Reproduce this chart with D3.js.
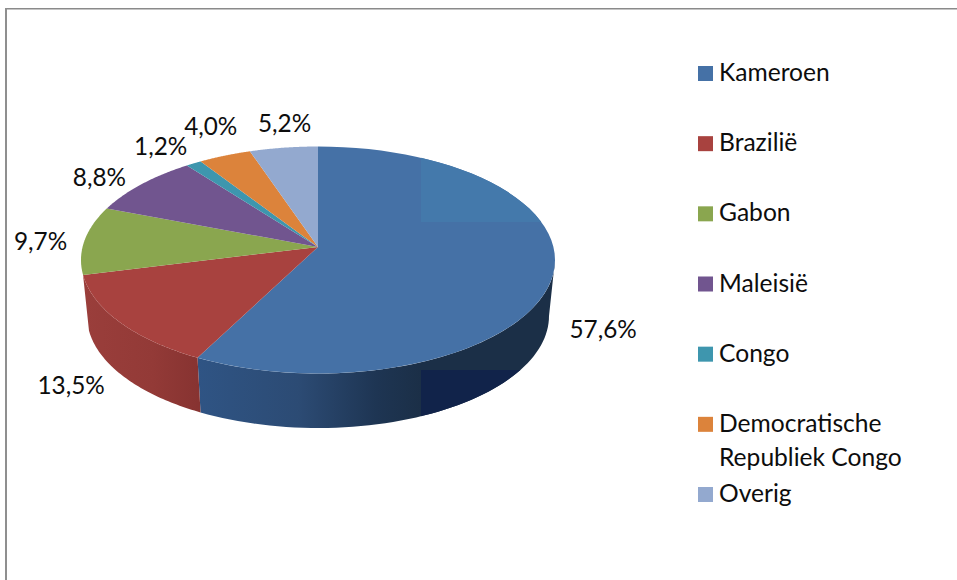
<!DOCTYPE html>
<html>
<head>
<meta charset="utf-8">
<script src="https://cdn.jsdelivr.net/npm/d3@7"></script>
<style>
  html, body { margin: 0; padding: 0; background: #fff; }
  svg { display: block; }
  text { font-family: Lato, "Open Sans", sans-serif; fill: #0d0d0d; }
</style>
</head>
<body>
<div id="chart"></div>
<script>
const categories = ["Kameroen", "Brazilië", "Gabon", "Maleisië", "Congo", ["Democratische", "Republiek Congo"], "Overig"];
const values = [57.6, 13.5, 9.7, 8.8, 1.2, 4.0, 5.2];
const valueLabels = ["57,6%", "13,5%", "9,7%", "8,8%", "1,2%", "4,0%", "5,2%"];
const colors = ["#4571a6", "#a8423f", "#8aa64f", "#71558f", "#3e96ae", "#dc833b", "#93a9cf"];
// label shift away from the rim, by slice
const labelShift = [[50, 54], [-48, 63], [-44, 0], [-42, -8], [-33, -18], [-14, -30], [1, -25]];

const width = 957;
const height = 580;

// top and bottom rim of the disc
const topRim = { cx: 318, cy: 260, rx: 237, ry: 113.5 };
const bottomRim = { cx: 318, cy: 316, rx: 231, ry: 112 };
// the perspective moves the disc centre up the ellipse
const tilt = 0.115;

function project(rim, angle) {
    const s = Math.sin(angle), c = Math.cos(angle);
    const d = 1 + tilt * c;
    return [
        rim.cx + rim.rx * s * Math.sqrt(1 - tilt * tilt) / d,
        rim.cy - rim.ry * (c + tilt) / d
    ];
}

function rimPoints(rim, a0, a1) {
    return d3.range(0, 61).map(i => project(rim, a0 + (a1 - a0) * i / 60));
}

const svg = d3.select("#chart").append("svg")
    .attr("width", width)
    .attr("height", height);

const defs = svg.append("defs");

function addGradient(id, x1, x2, stops) {
    const g = defs.append("linearGradient")
        .attr("id", id)
        .attr("gradientUnits", "userSpaceOnUse")
        .attr("x1", x1).attr("x2", x2).attr("y1", 0).attr("y2", 0);
    stops.forEach(s => g.append("stop").attr("offset", s[0]).attr("stop-color", s[1]));
}
addGradient("wall0", 198, 421, [[0, "#2f5484"], [0.45, "#2c4b74"], [0.8, "#1e3553"], [1, "#1b2f47"]]);
addGradient("wall1", 84, 198, [[0, "#9a3e3b"], [0.6, "#933a37"], [1, "#873331"]]);

defs.append("clipPath").attr("id", "patchTop")
    .append("rect").attr("x", 421).attr("y", 0).attr("width", 300).attr("height", 222);
defs.append("clipPath").attr("id", "patchWall")
    .append("rect").attr("x", 421).attr("y", 370).attr("width", 300).attr("height", 100);

// chart frame, only top and left survive
svg.append("rect").attr("x", 5).attr("y", 8).attr("width", 952).attr("height", 1.5).attr("fill", "#8a8a8a");
svg.append("rect").attr("x", 5).attr("y", 8).attr("width", 2).attr("height", 572).attr("fill", "#8f8f8f");

const pie = d3.pie().sort(null).value(d => d);
const slices = pie(values);
const line = d3.line();

// front edge of the disc in true angle
const frontStart = Math.acos(-tilt);
const frontEnd = 2 * Math.PI - frontStart;

function wallPath(d) {
    const a0 = Math.max(d.startAngle, frontStart);
    const a1 = Math.min(d.endAngle, frontEnd);
    return line(rimPoints(topRim, a0, a1).concat(rimPoints(bottomRim, a1, a0))) + "Z";
}

function topPath(d) {
    const apex = [topRim.cx, topRim.cy - topRim.ry * tilt];
    return line([apex].concat(rimPoints(topRim, d.startAngle, d.endAngle))) + "Z";
}

const walls = slices.filter(d => {
    const mid = (d.startAngle + d.endAngle) / 2;
    return mid > frontStart && mid < frontEnd;
});

svg.append("g").selectAll("path")
    .data(walls)
    .enter()
    .append("path")
    .attr("d", wallPath)
    .attr("fill", d => "url(#wall" + d.index + ")");

// darker block low on the blue wall
svg.append("path")
    .attr("d", wallPath(slices[0]))
    .attr("clip-path", "url(#patchWall)")
    .attr("fill", "#11234a");

svg.append("g").selectAll("path")
    .data(slices)
    .enter()
    .append("path")
    .attr("d", topPath)
    .attr("fill", d => colors[d.index]);

svg.append("path")
    .attr("d", topPath(slices[0]))
    .attr("clip-path", "url(#patchTop)")
    .attr("fill", "#4479ab");

// value labels
svg.append("g").selectAll("text")
    .data(slices)
    .enter()
    .append("text")
    .attr("x", d => project(topRim, (d.startAngle + d.endAngle) / 2)[0] + labelShift[d.index][0])
    .attr("y", d => project(topRim, (d.startAngle + d.endAngle) / 2)[1] + labelShift[d.index][1])
    .attr("text-anchor", "middle")
    .attr("dominant-baseline", "central")
    .attr("font-size", 24.3)
    .text(d => valueLabels[d.index]);

// legend
const legendY = d3.scalePoint()
    .domain(d3.range(categories.length))
    .range([66, 487]);

const legend = svg.append("g").selectAll("g")
    .data(categories)
    .enter()
    .append("g")
    .attr("transform", (d, i) => "translate(698," + legendY(i) + ")");

legend.append("rect")
    .attr("width", 15)
    .attr("height", 15)
    .attr("fill", (d, i) => colors[i]);

legend.append("text")
    .attr("x", 21)
    .attr("y", 15)
    .attr("font-size", 24.6)
    .selectAll("tspan")
    .data(d => [].concat(d))
    .enter()
    .append("tspan")
    .attr("x", 21)
    .attr("dy", (d, i) => i ? 34 : 0)
    .text(d => d);
</script>
</body>
</html>
